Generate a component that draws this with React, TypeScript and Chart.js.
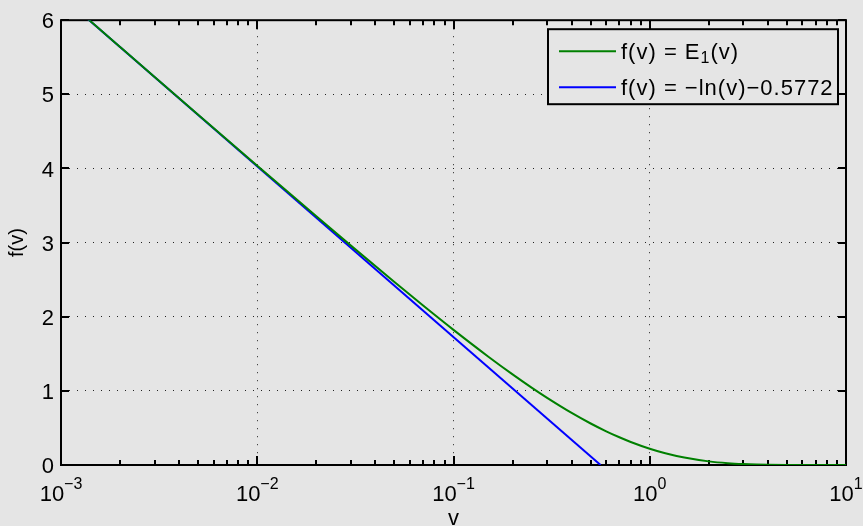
import React, { useEffect, useRef } from "react";
import { Chart, registerables } from "chart.js";

Chart.register(...registerables);

// E1(v)
const e1V = [0.001, 0.0014, 0.002, 0.003, 0.005, 0.007, 0.01, 0.015, 0.02, 0.03, 0.05, 0.07, 0.1, 0.15, 0.2, 0.25, 0.3, 0.4, 0.5, 0.6, 0.7, 0.8, 1, 1.2, 1.5, 2, 2.5, 3, 3.5, 4, 5, 6, 7, 8, 10];
const e1F = [6.3315, 5.9955, 5.6394, 5.2349, 4.7261, 4.3916, 4.0379, 3.6375, 3.3547, 2.9591, 2.4679, 2.1509, 1.8229, 1.4645, 1.2227, 1.0443, 0.9057, 0.7024, 0.5598, 0.4544, 0.3738, 0.3106, 0.2194, 0.1584, 0.1, 0.0489, 0.02491, 0.01305, 0.00697, 0.003779, 0.001148, 0.00036, 0.0001155, 0.0000377, 0.0000042];

// -ln(v) - 0.5772 (straight line in log-x)
const lnV = [0.001, 0.5615];
const lnF = [6.3306, 0];

const xDecades = [0.001, 0.01, 0.1, 1, 10];
const xExponents = ["\u22123", "\u22122", "\u22121", "0", "1"];
const yTicks = [0, 1, 2, 3, 4, 5, 6];

const legendLabels = ["f(v) = E", "f(v) = \u2212ln(v)\u22120.5772"];
const seriesColors = ["#008000", "#0000ff"];

const BG = "#e5e5e5";
const FONT = '"Liberation Sans", Arial, Helvetica, sans-serif';

const bgPlugin = {
  id: "bg",
  beforeDraw(chart: any) {
    const { ctx, width, height } = chart;
    ctx.save();
    ctx.fillStyle = BG;
    ctx.fillRect(0, 0, width, height);
    ctx.restore();
  },
};

const framePlugin = {
  id: "frame",
  beforeDatasetsDraw(chart: any) {
    const { ctx, chartArea } = chart;
    const { left, right, top, bottom } = chartArea;
    const xs = chart.scales.x;
    const ys = chart.scales.y;
    ctx.save();
    ctx.strokeStyle = "#000";
    ctx.lineWidth = 2;
    ctx.strokeRect(left, top, right - left, bottom - top);
    ctx.beginPath();
    // x major + minor ticks
    xDecades.forEach((d, i) => {
      const x = Math.round(xs.getPixelForValue(d));
      ctx.moveTo(x, bottom);
      ctx.lineTo(x, bottom - 9);
      ctx.moveTo(x, top);
      ctx.lineTo(x, top + 9);
      if (i < xDecades.length - 1) {
        for (let m = 2; m <= 9; m++) {
          const xm = Math.round(xs.getPixelForValue(d * m));
          ctx.moveTo(xm, bottom);
          ctx.lineTo(xm, bottom - 5);
          ctx.moveTo(xm, top);
          ctx.lineTo(xm, top + 5);
        }
      }
    });
    yTicks.forEach((t) => {
      const y = Math.round(ys.getPixelForValue(t));
      ctx.moveTo(left, y);
      ctx.lineTo(left + 8, y);
      ctx.moveTo(right, y);
      ctx.lineTo(right - 8, y);
    });
    ctx.stroke();
    ctx.restore();
  },
};

const xLabelPlugin = {
  id: "xlabels",
  afterDraw(chart: any) {
    const { ctx, chartArea } = chart;
    const xs = chart.scales.x;
    ctx.save();
    ctx.fillStyle = "#000";
    ctx.textBaseline = "alphabetic";
    ctx.textAlign = "left";
    const base = chartArea.bottom + 36;
    xDecades.forEach((d, i) => {
      const x = xs.getPixelForValue(d);
      ctx.font = `22px ${FONT}`;
      const w1 = ctx.measureText("10").width;
      ctx.font = `16px ${FONT}`;
      const w2 = ctx.measureText(xExponents[i]).width;
      const start = x - (w1 + w2) / 2;
      ctx.font = `22px ${FONT}`;
      ctx.fillText("10", start, base);
      ctx.font = `16px ${FONT}`;
      ctx.fillText(xExponents[i], start + w1, base - 12);
    });
    ctx.restore();
  },
};

const legendPlugin = {
  id: "customLegend",
  afterDraw(chart: any) {
    const { ctx, chartArea } = chart;
    const bx = chartArea.right - 298;
    const by = chartArea.top + 9;
    const bw = 290;
    const bh = 75;
    ctx.save();
    ctx.fillStyle = BG;
    ctx.fillRect(bx, by, bw, bh);
    ctx.strokeStyle = "#000";
    ctx.lineWidth = 2;
    ctx.strokeRect(bx, by, bw, bh);
    const rows = [by + 22, by + 58];
    rows.forEach((ry, i) => {
      ctx.strokeStyle = seriesColors[i];
      ctx.lineWidth = 2;
      ctx.beginPath();
      ctx.moveTo(bx + 11, ry);
      ctx.lineTo(bx + 68, ry);
      ctx.stroke();
    });
    ctx.fillStyle = "#000";
    ctx.textBaseline = "alphabetic";
    ctx.textAlign = "left";
    try {
      (ctx as any).letterSpacing = "1px";
    } catch (e) {}
    const tx = bx + 73;
    // row 1: f(v) = E_1(v)
    ctx.font = `22px ${FONT}`;
    ctx.fillText(legendLabels[0], tx, rows[0] + 8);
    let w = ctx.measureText(legendLabels[0]).width;
    ctx.font = `16px ${FONT}`;
    ctx.fillText("1", tx + w, rows[0] + 12);
    const w2 = ctx.measureText("1").width;
    ctx.font = `22px ${FONT}`;
    ctx.fillText("(v)", tx + w + w2, rows[0] + 8);
    // row 2
    ctx.fillText(legendLabels[1], tx, rows[1] + 8);
    ctx.restore();
  },
};

export default function App() {
  const ref = useRef<HTMLCanvasElement | null>(null);
  useEffect(() => {
    if (!ref.current) return;
    const chart = new Chart(ref.current, {
      type: "line",
      data: {
        datasets: [
          {
            label: "f(v) = E1(v)",
            data: e1V.map((v, i) => ({ x: v, y: e1F[i] })),
            borderColor: seriesColors[0],
            borderWidth: 2,
            pointRadius: 0,
            fill: false,
            cubicInterpolationMode: "monotone",
          },
          {
            label: "f(v) = -ln(v)-0.5772",
            data: lnV.map((v, i) => ({ x: v, y: lnF[i] })),
            borderColor: seriesColors[1],
            borderWidth: 2,
            pointRadius: 0,
            fill: false,
          },
        ],
      },
      options: {
        animation: false,
        responsive: false,
        maintainAspectRatio: false,
        events: [],
        layout: { padding: { top: 16, right: 17, left: 0, bottom: 0 } },
        plugins: { legend: { display: false }, tooltip: { enabled: false } },
        scales: {
          x: {
            type: "logarithmic",
            min: 0.001,
            max: 10,
            afterBuildTicks: (s: any) => {
              s.ticks = xDecades.map((v) => ({ value: v, major: true }));
            },
            afterFit: (s: any) => {
              s.height = 61;
            },
            ticks: { display: false },
            grid: { color: "#222", lineWidth: 1, drawTicks: false },
            border: { display: false, dash: [1, 7] },
            title: {
              display: true,
              text: "v",
              color: "#000",
              font: { family: FONT, size: 22, lineHeight: 0.65 },
              padding: 0,
            },
          },
          y: {
            type: "linear",
            min: 0,
            max: 6,
            afterBuildTicks: (s: any) => {
              s.ticks = yTicks.map((v) => ({ value: v }));
            },
            afterFit: (s: any) => {
              s.width = 61;
            },
            ticks: {
              color: "#000",
              font: { family: FONT, size: 22 },
              padding: 7,
              labelOffset: 2,
            },
            grid: { color: "#222", lineWidth: 1, drawTicks: false },
            border: { display: false, dash: [1, 7] },
            title: {
              display: true,
              text: "f(v)",
              color: "#000",
              font: { family: FONT, size: 20, lineHeight: 1.2 },
              padding: { top: 5, bottom: 0 },
            },
          },
        },
      },
      plugins: [bgPlugin, framePlugin, xLabelPlugin, legendPlugin],
    } as any);
    return () => chart.destroy();
  }, []);
  return (
    <div style={{ position: "fixed", left: 0, top: 0, width: 863, height: 526, background: BG }}>
      <canvas ref={ref} width={863} height={526} style={{ display: "block", width: 863, height: 526 }} />
    </div>
  );
}
